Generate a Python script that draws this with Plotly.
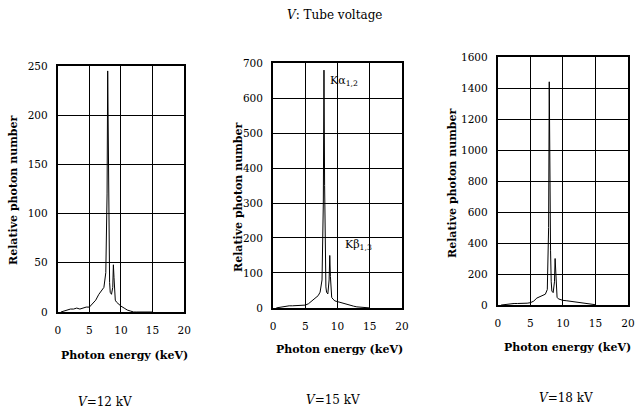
import plotly.graph_objects as go

# photon energy (keV) and relative photon number for each tube voltage
energy = [0.5, 1.0, 1.5, 2.0, 2.5, 3.0, 3.5, 4.0, 4.5, 5.0, 5.5, 6.0, 6.5, 7.0, 7.3, 7.6,
          7.8, 7.9, 8.0, 8.1, 8.2, 8.3, 8.5, 8.7, 8.8, 8.9, 9.0, 9.1, 9.3, 9.6, 10.0,
          10.5, 11.0, 11.5, 12.0, 12.5, 13.0, 14.0, 15.0]
counts_12kv = [0, 1, 2, 3, 3, 4, 3, 4, 5, 5, 8, 12, 18, 22, 25, 40,
               120, 245, 150, 60, 30, 20, 18, 25, 48, 35, 15, 12, 10, 8, 6,
               4, 2, 1, 0, 0, 0, 0, 0]
counts_15kv = [0, 2, 3, 5, 6, 6, 6, 6, 7, 8, 12, 20, 28, 35, 45, 80,
               300, 680, 350, 120, 60, 45, 40, 80, 150, 90, 45, 30, 25, 20, 18,
               15, 12, 10, 8, 5, 3, 1, 0]
counts_18kv = [0, 3, 5, 8, 10, 10, 10, 10, 12, 15, 25, 45, 55, 60, 70, 100,
               500, 1440, 600, 350, 150, 90, 80, 150, 300, 180, 80, 50, 40, 35, 30,
               28, 25, 22, 20, 15, 10, 5, 2]

x_ticks = [0, 5, 10, 15, 20]
y_ranges = [250, 700, 1600]
y_dticks = [50, 100, 200]
voltage_labels = ["<i>V</i>=12 kV", "<i>V</i>=15 kV", "<i>V</i>=18 kV"]

FONT = "DejaVu Serif"
series = [counts_12kv, counts_15kv, counts_18kv]
x_domains = [[0.091, 0.290], [0.430, 0.633], [0.784, 0.989]]
y_domains = [[0.239, 0.839], [0.249, 0.846], [0.256, 0.861]]

fig = go.Figure()
for i, counts in enumerate(series):
    n = "" if i == 0 else str(i + 1)
    fig.add_trace(go.Scatter(x=energy, y=counts, mode="lines",
                             line=dict(color="black", width=1),
                             xaxis="x" + n, yaxis="y" + n, showlegend=False))
    axis_common = dict(showline=True, mirror=True, linecolor="black", linewidth=2,
                       showgrid=True, gridcolor="black", gridwidth=1.3,
                       zeroline=False, ticks="", color="black", automargin=False,
                       tickfont=dict(family=FONT, size=10.5, color="black"))
    fig.layout["xaxis" + n] = dict(axis_common, domain=x_domains[i], range=[0, 20],
                                   tickvals=x_ticks, anchor="y" + n, ticklabelstandoff=7)
    fig.layout["yaxis" + n] = dict(axis_common, domain=y_domains[i], range=[0, y_ranges[i]],
                                   dtick=y_dticks[i], anchor="x" + n, ticklabelstandoff=6)

ann = []
title_font = dict(family=FONT, size=11, color="black")
ytitle_x = [13, 238, 453]
ytitle_y = [190, 197, 183]
xtitle_x = [124, 339, 567]
xtitle_y = [355, 349, 347]
vlabel_x = [105, 333, 566]
vlabel_y = [402, 400, 398]
for i in range(3):
    ann.append(dict(text="<b>Relative photon number</b>", textangle=-90,
                    x=ytitle_x[i] / 635, y=1 - ytitle_y[i] / 410, xref="paper", yref="paper",
                    xanchor="center", yanchor="middle",
                    showarrow=False, font=title_font))
    ann.append(dict(text="<b>Photon energy (keV)</b>",
                    x=xtitle_x[i] / 635, y=1 - xtitle_y[i] / 410, xref="paper", yref="paper",
                    xanchor="center", yanchor="middle",
                    showarrow=False, font=title_font))
    ann.append(dict(text=voltage_labels[i],
                    x=vlabel_x[i] / 635, y=1 - vlabel_y[i] / 410, xref="paper", yref="paper",
                    xanchor="center", yanchor="middle",
                    showarrow=False, font=dict(family=FONT, size=12, color="black")))

ann.append(dict(text="<i>V</i>: Tube voltage", x=335 / 635, y=1 - 15 / 410,
                xref="paper", yref="paper", xanchor="center", yanchor="middle",
                showarrow=False, font=dict(family=FONT, size=12, color="black")))
ann.append(dict(text="Kα<sub>1,2</sub>", x=8.5, y=648, xref="x2", yref="y2",
                xanchor="left", yanchor="middle", showarrow=False,
                font=dict(family=FONT, size=11, color="black")))
ann.append(dict(text="Kβ<sub>1,3</sub>", x=10.9, y=180, xref="x2", yref="y2",
                xanchor="left", yanchor="middle", showarrow=False,
                font=dict(family=FONT, size=11, color="black")))

fig.update_layout(width=635, height=410, margin=dict(l=0, r=0, t=0, b=0),
                  paper_bgcolor="white", plot_bgcolor="white", annotations=ann)

# drop the browser's default page margin so the figure fills the window
fig.write_html("out.html", config={"displayModeBar": False},
               post_script="document.body.style.margin = '0px';")
